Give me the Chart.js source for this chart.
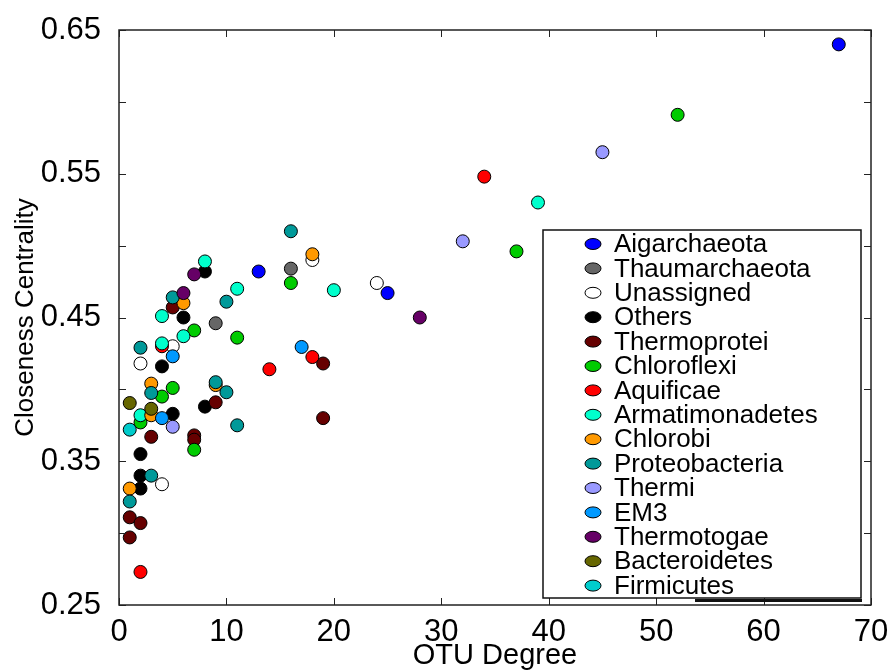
<!DOCTYPE html>
<html>
<head>
<meta charset="utf-8">
<script src="https://cdn.jsdelivr.net/npm/chart.js@4.4.0/dist/chart.umd.min.js"></script>
<style>
  body { margin: 0; background: #fff; }
  #wrap { width: 888px; height: 670px; }
</style>
</head>
<body>
<div id="wrap"><canvas id="myChart" width="888" height="670"></canvas></div>
<script>
// categories in legend order
var categories = ['Aigarchaeota', 'Thaumarchaeota', 'Unassigned', 'Others', 'Thermoprotei',
    'Chloroflexi', 'Aquificae', 'Armatimonadetes', 'Chlorobi', 'Proteobacteria',
    'Thermi', 'EM3', 'Thermotogae', 'Bacteroidetes', 'Firmicutes'];

// OTU degree (x) and closeness centrality (y) per category
var aigarchaeotaDeg = [67, 25, 13];
var aigarchaeotaCc = [0.640, 0.467, 0.482];
var thaumarchaeotaDeg = [16, 9];
var thaumarchaeotaCc = [0.484, 0.446];
var unassignedDeg = [18, 24, 5, 2, 4];
var unassignedCc = [0.490, 0.474, 0.430, 0.418, 0.334];
var othersDeg = [8, 6, 4, 8, 5, 2, 2, 2];
var othersCc = [0.482, 0.450, 0.416, 0.388, 0.383, 0.355, 0.340, 0.331];
var thermoproteiDeg = [5, 9, 3, 7, 7, 19, 19, 1, 2, 1];
var thermoproteiCc = [0.457, 0.391, 0.367, 0.368, 0.365, 0.418, 0.380, 0.311, 0.307, 0.297];
var chloroflexiDeg = [52, 37, 16, 7, 11, 5, 4, 2, 7];
var chloroflexiCc = [0.591, 0.496, 0.474, 0.441, 0.436, 0.401, 0.395, 0.377, 0.358];
var aquificaeDeg = [34, 14, 18, 4, 2];
var aquificaeCc = [0.548, 0.414, 0.4225, 0.430, 0.273];
var armatimonadetesDeg = [39, 20, 8, 11, 4, 6, 4, 2];
var armatimonadetesCc = [0.530, 0.469, 0.489, 0.470, 0.451, 0.437, 0.432, 0.382];
var chlorobiDeg = [18, 6, 3, 3, 1, 9];
var chlorobiCc = [0.494, 0.460, 0.404, 0.382, 0.331, 0.403];
var proteobacteriaDeg = [16, 5, 10, 2, 3, 9, 10, 11, 3, 1];
var proteobacteriaCc = [0.510, 0.464, 0.461, 0.429, 0.3975, 0.405, 0.398, 0.375, 0.340, 0.322];
var thermiDeg = [45, 32, 5];
var thermiCc = [0.565, 0.503, 0.374];
var em3Deg = [17, 5, 4];
var em3Cc = [0.4295, 0.423, 0.380];
var thermotogaeDeg = [28, 7, 6];
var thermotogaeCc = [0.450, 0.480, 0.467];
var bacteroidetesDeg = [1, 3];
var bacteroidetesCc = [0.3905, 0.3865];
var firmicutesDeg = [1];
var firmicutesCc = [0.372];

// tick labels
var xTickLabels = ['0', '10', '20', '30', '40', '50', '60', '70'];
var yTickLabels = ['0.25', '0.35', '0.45', '0.55', '0.65'];

var seriesDeg = [aigarchaeotaDeg, thaumarchaeotaDeg, unassignedDeg, othersDeg, thermoproteiDeg,
    chloroflexiDeg, aquificaeDeg, armatimonadetesDeg, chlorobiDeg, proteobacteriaDeg,
    thermiDeg, em3Deg, thermotogaeDeg, bacteroidetesDeg, firmicutesDeg];
var seriesCc = [aigarchaeotaCc, thaumarchaeotaCc, unassignedCc, othersCc, thermoproteiCc,
    chloroflexiCc, aquificaeCc, armatimonadetesCc, chlorobiCc, proteobacteriaCc,
    thermiCc, em3Cc, thermotogaeCc, bacteroidetesCc, firmicutesCc];

var colors = ['#0000ff', '#666666', '#ffffff', '#000000', '#660000',
    '#00cc00', '#ff0000', '#00ffcc', '#ff9900', '#009999',
    '#9999ff', '#0099ff', '#660066', '#666600', '#00cccc'];

var FONT = '"Liberation Sans", Arial, Helvetica, sans-serif';

var datasets = categories.map(function (name, i) {
    return {
        label: name,
        data: seriesDeg[i].map(function (x, j) { return { x: x, y: seriesCc[i][j] }; }),
        backgroundColor: colors[i],
        borderColor: '#000',
        borderWidth: 1,
        pointRadius: 6.5,
        order: categories.length - i // later categories on top
    };
});

// frame with inward ticks on all four sides
var framePlugin = {
    id: 'frame',
    afterDraw: function (chart) {
        var ctx = chart.ctx, a = chart.chartArea;
        var xs = chart.scales.x, ys = chart.scales.y;
        ctx.save();
        ctx.strokeStyle = '#222';
        ctx.lineWidth = 1;
        ctx.beginPath();
        xs.ticks.forEach(function (t) {
            var px = Math.round(xs.getPixelForValue(t.value)) + 0.5;
            ctx.moveTo(px, a.bottom); ctx.lineTo(px, a.bottom - 7);
            ctx.moveTo(px, a.top); ctx.lineTo(px, a.top + 7);
        });
        ys.ticks.forEach(function (t) {
            var py = Math.round(ys.getPixelForValue(t.value)) + 0.5;
            ctx.moveTo(a.left, py); ctx.lineTo(a.left + 7, py);
            ctx.moveTo(a.right, py); ctx.lineTo(a.right - 7, py);
        });
        ctx.stroke();
        ctx.lineWidth = 1.5;
        ctx.strokeRect(a.left, a.top, a.right - a.left, a.bottom - a.top);
        ctx.restore();
    }
};

// boxed legend in the lower right of the plot
var legendPlugin = {
    id: 'boxLegend',
    afterDraw: function (chart) {
        var ctx = chart.ctx;
        var left = 543, top = 230, right = 861, bottom = 598;
        ctx.save();
        ctx.fillStyle = '#fff';
        ctx.fillRect(left, top, right - left, bottom - top);
        ctx.strokeStyle = '#111';
        ctx.lineWidth = 1.5;
        ctx.strokeRect(left, top, right - left, bottom - top);
        ctx.lineWidth = 3;
        ctx.beginPath();
        ctx.moveTo(695, bottom + 2.5); ctx.lineTo(right + 1, bottom + 2.5);
        ctx.stroke();
        ctx.font = '26px ' + FONT;
        ctx.textBaseline = 'middle';
        categories.forEach(function (name, i) {
            var y = 244 + i * 24.4;
            ctx.beginPath();
            ctx.ellipse(593, y, 8, 5.5, 0, 0, Math.PI * 2);
            ctx.fillStyle = colors[i];
            ctx.fill();
            ctx.lineWidth = 1;
            ctx.strokeStyle = '#000';
            ctx.stroke();
            ctx.fillStyle = '#000';
            ctx.fillText(name, 614, y + 1);
        });
        ctx.restore();
    }
};

function noPad(scale) {
    scale.paddingLeft = 0;
    scale.paddingRight = 0;
    scale.paddingTop = 0;
    scale.paddingBottom = 0;
}

var ctx = document.getElementById('myChart').getContext('2d');
var myChart = new Chart(ctx, {
    type: 'scatter',
    data: { datasets: datasets },
    options: {
        responsive: false,
        animation: false,
        layout: { padding: { top: 30, right: 17, left: 0, bottom: 0 } },
        plugins: {
            legend: { display: false },
            tooltip: { enabled: false }
        },
        scales: {
            x: {
                min: 0,
                max: 70,
                afterFit: function (scale) { scale.height = 65; noPad(scale); },
                border: { display: false },
                grid: { display: false, drawTicks: false },
                ticks: {
                    stepSize: 10,
                    padding: 9,
                    color: '#000',
                    font: { family: FONT, size: 31 },
                    callback: function (value, index) { return xTickLabels[index]; }
                },
                title: {
                    display: true,
                    text: 'OTU Degree',
                    color: '#000',
                    padding: { top: 0, bottom: -3 },
                    font: { family: FONT, size: 29 }
                }
            },
            y: {
                min: 0.25,
                max: 0.65,
                afterFit: function (scale) { scale.width = 119; noPad(scale); },
                border: { display: false },
                grid: { display: false, drawTicks: false },
                ticks: {
                    stepSize: 0.05,
                    padding: 18,
                    color: '#000',
                    font: { family: FONT, size: 31 },
                    callback: function (value) {
                        var k = Math.round(value * 100);
                        return (k % 10 === 5) ? yTickLabels[(k - 25) / 10] : '';
                    }
                },
                title: {
                    display: true,
                    text: 'Closeness Centrality',
                    color: '#000',
                    padding: { top: 10, bottom: 0 },
                    font: { family: FONT, size: 26 }
                }
            }
        }
    },
    plugins: [framePlugin, legendPlugin]
});
</script>
</body>
</html>
